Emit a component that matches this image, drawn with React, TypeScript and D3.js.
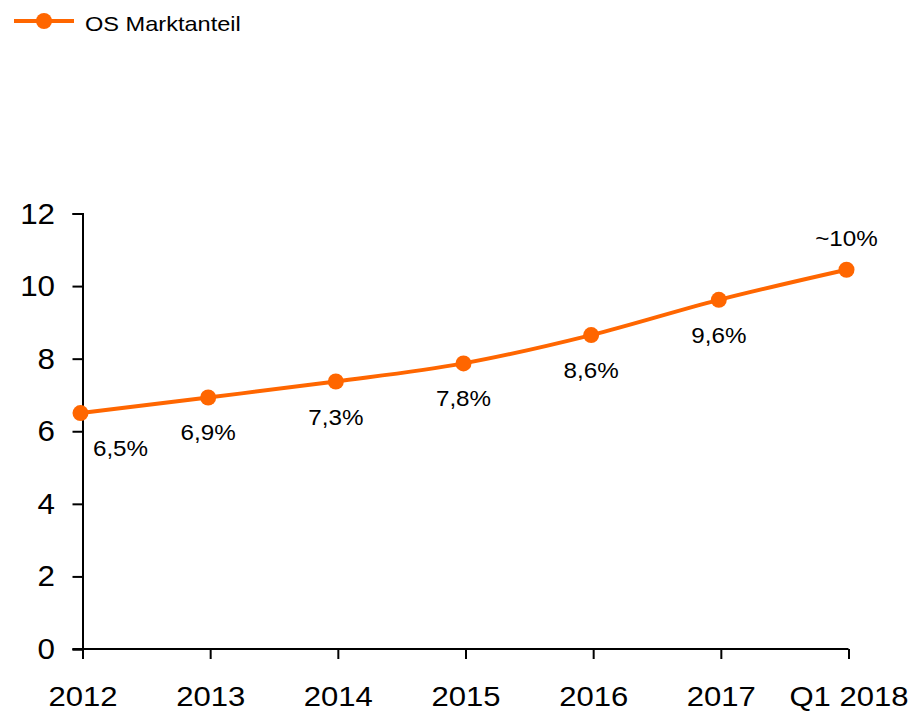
import React, { useEffect, useRef } from "react";
import * as d3 from "d3";

// chart data
const categories = ["2012", "2013", "2014", "2015", "2016", "2017", "Q1 2018"];
const shareValues = [6.5, 6.93, 7.37, 7.87, 8.65, 9.62, 10.45];
const shareLabels = ["6,5%", "6,9%", "7,3%", "7,8%", "8,6%", "9,6%", "~10%"];
const yTicks = [0, 2, 4, 6, 8, 10, 12];
const seriesName = "OS Marktanteil";

const ORANGE = "#FF6600";
const FONT = "'Liberation Sans', Arial, sans-serif";

const App = () => {
  const ref = useRef<SVGSVGElement | null>(null);

  useEffect(() => {
    const width = 913,
      height = 712;
    const margin = { top: 213.5, right: 64.5, bottom: 63, left: 82.5 };

    const svg = d3.select(ref.current);
    svg.selectAll("*").remove();

    // x positions by category
    const x = d3
      .scalePoint<string>()
      .domain(categories)
      .range([margin.left, width - margin.right]);

    const y = d3
      .scaleLinear()
      .domain([0, 12])
      .range([height - margin.bottom, margin.top]);

    // y axis
    const yAxis = svg
      .append("g")
      .attr("transform", `translate(${margin.left},0)`)
      .call(d3.axisLeft(y).tickValues(yTicks).tickSize(10));
    yAxis.select(".domain").attr("stroke", "#000").attr("stroke-width", 2);
    yAxis.selectAll(".tick line").attr("stroke", "#000").attr("stroke-width", 2);
    yAxis
      .selectAll("text")
      .attr("font-family", FONT)
      .attr("font-size", 29)
      .attr("fill", "#000")
      .attr("x", 0)
      .attr("dy", 0)
      .attr("text-anchor", "end")
      .attr("transform", "translate(-27.5,9.5) scale(1.08,1)");

    // x axis
    const xAxis = svg
      .append("g")
      .attr("transform", `translate(0,${y(0)})`)
      .call(d3.axisBottom(x).tickSize(10).tickSizeOuter(0));
    xAxis
      .select(".domain")
      .attr("stroke", "#000")
      .attr("stroke-width", 2)
      .attr("d", `M${margin.left - 10},0H${x("Q1 2018")}`);
    xAxis.selectAll(".tick line").attr("stroke", "#000").attr("stroke-width", 2);
    xAxis
      .selectAll("text")
      .attr("font-family", FONT)
      .attr("font-size", 28.5)
      .attr("fill", "#000")
      .attr("y", 0)
      .attr("dy", 0)
      .attr("transform", `translate(0,${705.8 - y(0)}) scale(1.09,1)`);

    // series line
    const line = d3
      .line<number>()
      .x((d, i) => (x(categories[i]) as number) - 2)
      .y((d) => y(d))
      .curve(d3.curveMonotoneX);

    svg
      .append("path")
      .datum(shareValues)
      .attr("fill", "none")
      .attr("stroke", ORANGE)
      .attr("stroke-width", 4)
      .attr("d", line);

    svg
      .selectAll(".dot")
      .data(shareValues)
      .enter()
      .append("circle")
      .attr("cx", (d, i) => (x(categories[i]) as number) - 2)
      .attr("cy", (d) => y(d))
      .attr("r", 8)
      .attr("fill", ORANGE);

    // data labels
    const last = shareValues.length - 1;
    svg
      .selectAll(".lbl")
      .data(shareValues)
      .enter()
      .append("text")
      .attr("text-anchor", "middle")
      .attr("font-family", FONT)
      .attr("font-size", 22)
      .attr("fill", "#000")
      .attr("transform", (d, i) => {
        const lx = (x(categories[i]) as number) + (i === 0 ? 38 : -2);
        const ly = i === last ? y(d) - 24 : y(d) + 43;
        return `translate(${lx},${ly}) scale(1.1,1)`;
      })
      .text((d, i) => shareLabels[i]);

    // legend
    const lg = svg.append("g");
    lg.append("line")
      .attr("x1", 14)
      .attr("x2", 74)
      .attr("y1", 21)
      .attr("y2", 21)
      .attr("stroke", ORANGE)
      .attr("stroke-width", 4);
    lg.append("circle").attr("cx", 44).attr("cy", 21).attr("r", 8).attr("fill", ORANGE);
    lg.append("text")
      .attr("transform", "translate(85,30.5) scale(1.15,1)")
      .attr("font-family", FONT)
      .attr("font-size", 20.5)
      .attr("fill", "#000")
      .text(seriesName);
  }, []);

  return (
    <svg
      ref={ref}
      width={913}
      height={712}
      style={{ position: "absolute", left: 0, top: 0, background: "#fff" }}
    ></svg>
  );
};

export default App;
